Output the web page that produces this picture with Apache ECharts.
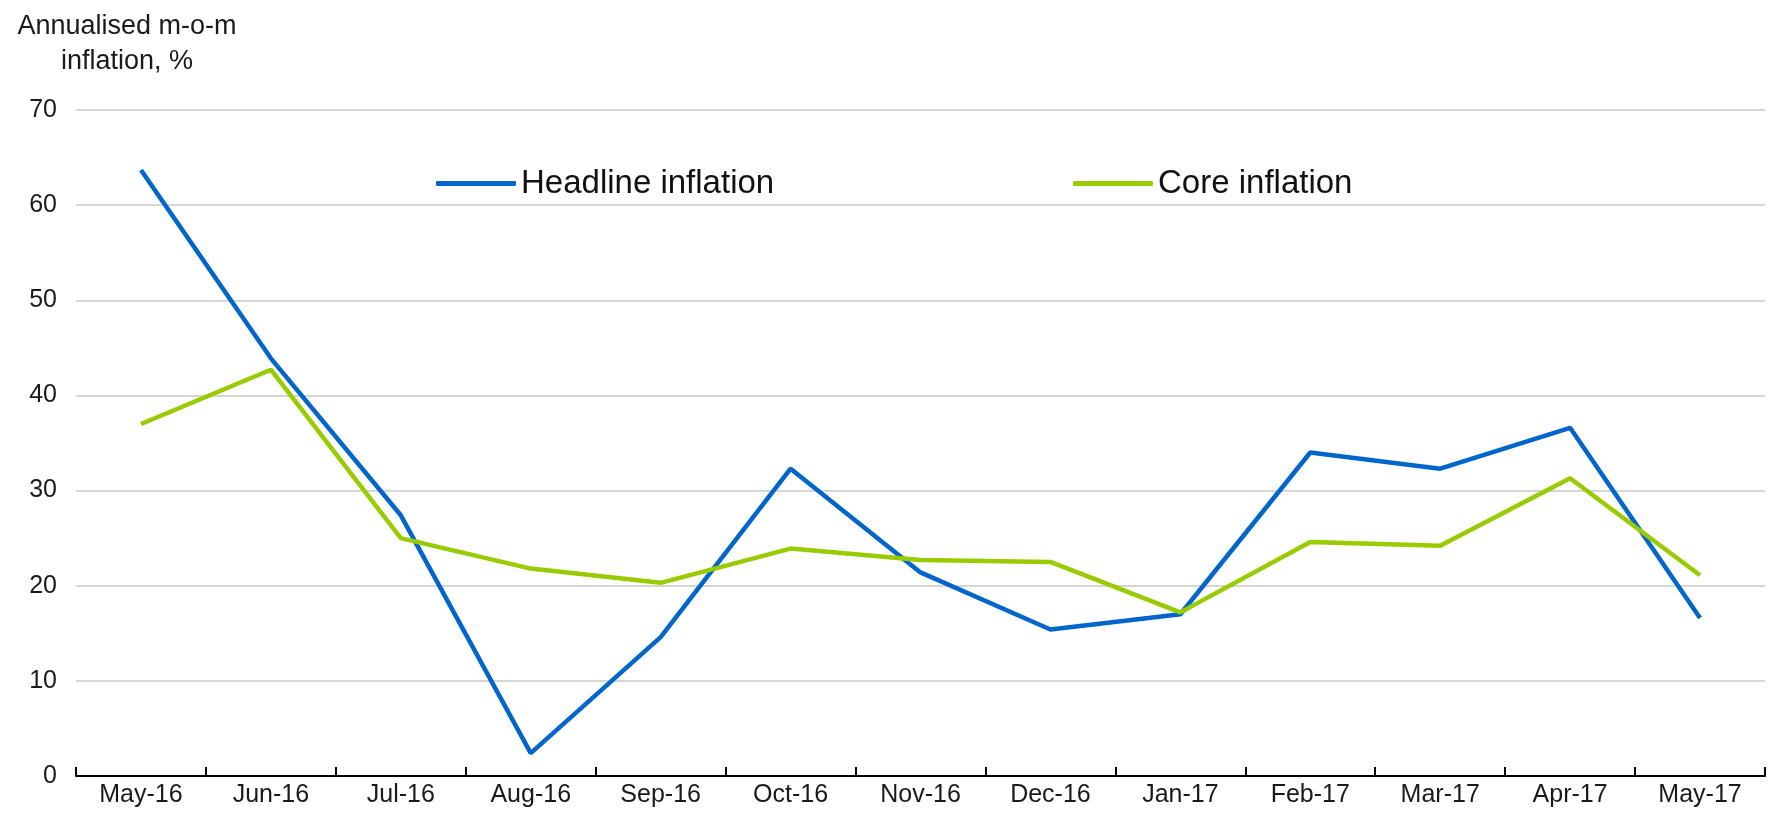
<!DOCTYPE html>
<html>
<head>
<meta charset="UTF-8">
<title>Annualised m-o-m inflation</title>
<script src="https://cdn.jsdelivr.net/npm/echarts@6/dist/echarts.min.js"></script>
<style>
  html, body { margin: 0; padding: 0; background: #fff; }
  #main { width: 1777px; height: 819px; }
</style>
</head>
<body>
<div id="main"></div>
<script>
var months = ['May-16', 'Jun-16', 'Jul-16', 'Aug-16', 'Sep-16', 'Oct-16', 'Nov-16',
              'Dec-16', 'Jan-17', 'Feb-17', 'Mar-17', 'Apr-17', 'May-17'];
var headline = [63.7, 43.9, 27.4, 2.4, 14.6, 32.3, 21.4, 15.4, 17.0, 34.0, 32.3, 36.6, 16.6];
var core = [37.0, 42.7, 25.0, 21.8, 20.3, 23.9, 22.7, 22.5, 17.2, 24.6, 24.2, 31.3, 21.1];

var font = "'Liberation Sans Narrow', 'Arial Narrow', 'Liberation Sans', Arial, sans-serif";

var chart = echarts.init(document.getElementById('main'));

chart.setOption({
  animation: false,
  title: {
    text: 'Annualised m-o-m\ninflation, %',
    left: 122,
    top: 4,
    textAlign: 'center',
    textStyle: { fontFamily: font, fontSize: 27, fontWeight: 'normal', color: '#1a1a1a', lineHeight: 35, align: 'center' }
  },
  // two separate legends so they sit where the original puts them
  legend: [{
    data: ['Headline inflation'],
    left: 431, top: 162,
    itemWidth: 80, itemHeight: 5, itemGap: 6,
    icon: 'roundRect',
    textStyle: { fontFamily: font, fontSize: 33, color: '#111' }
  }, {
    data: ['Core inflation'],
    left: 1068, top: 162,
    itemWidth: 80, itemHeight: 5, itemGap: 6,
    icon: 'roundRect',
    textStyle: { fontFamily: font, fontSize: 33, color: '#111' }
  }],
  grid: { left: 76, right: 12, top: 110, bottom: 43, containLabel: false },
  xAxis: {
    type: 'category',
    data: months,
    boundaryGap: true,
    axisLine: { lineStyle: { color: '#000', width: 2 } },
    axisTick: { show: true, inside: true, length: 9, lineStyle: { color: '#000', width: 2 } },
    axisLabel: { fontFamily: font, fontSize: 25, color: '#1a1a1a', margin: 7 }
  },
  yAxis: {
    type: 'value',
    min: 0, max: 70, interval: 10,
    axisLine: { show: false },
    axisTick: { show: false },
    axisLabel: { fontFamily: font, fontSize: 25, color: '#1a1a1a', margin: 19 },
    splitLine: { lineStyle: { color: '#c8c8c8', width: 1.5 } }
  },
  series: [{
    name: 'Headline inflation',
    type: 'line',
    data: headline,
    symbol: 'none',
    lineStyle: { color: '#0066cc', width: 4.5 },
    itemStyle: { color: '#0066cc' }
  }, {
    name: 'Core inflation',
    type: 'line',
    data: core,
    symbol: 'none',
    lineStyle: { color: '#99cc00', width: 4.5 },
    itemStyle: { color: '#99cc00' }
  }]
});
</script>
</body>
</html>
